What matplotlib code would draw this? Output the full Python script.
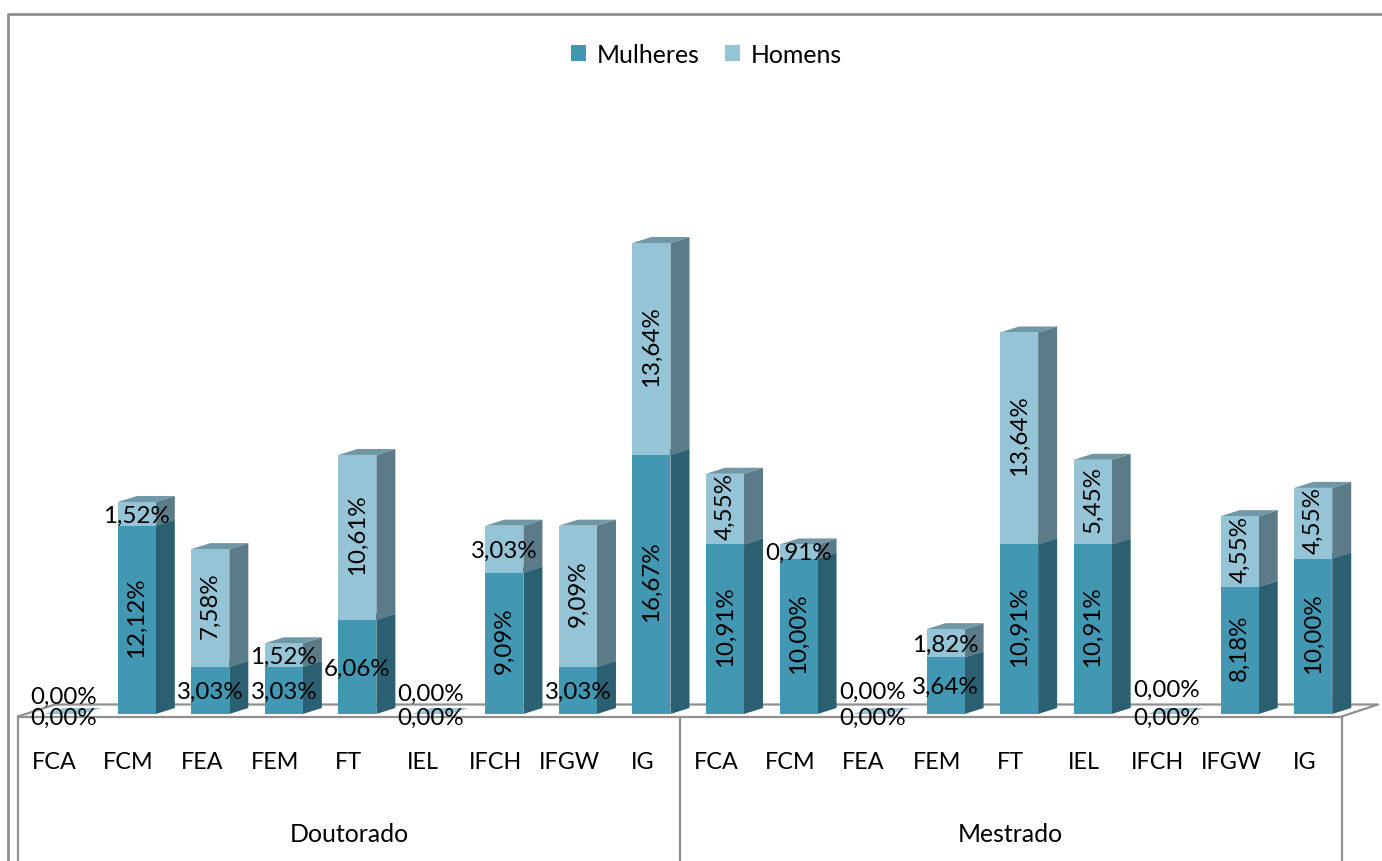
import numpy as np
import matplotlib
matplotlib.use("Agg")
import matplotlib.pyplot as plt
from matplotlib.lines import Line2D
from matplotlib.patches import Polygon, Patch

plt.rcParams['font.family'] = ['Lato', 'DejaVu Sans']

courses = ["FCA", "FCM", "FEA", "FEM", "FT", "IEL", "IFCH", "IFGW", "IG",
           "FCA", "FCM", "FEA", "FEM", "FT", "IEL", "IFCH", "IFGW", "IG"]
groups = ["Doutorado", "Mestrado"]
mulheres = [0.00, 12.12, 3.03, 3.03, 6.06, 0.00, 9.09, 3.03, 16.67,
            10.91, 10.00, 0.00, 3.64, 10.91, 10.91, 0.00, 8.18, 10.00]
homens = [0.00, 1.52, 7.58, 1.52, 10.61, 0.00, 3.03, 9.09, 13.64,
          4.55, 0.91, 0.00, 1.82, 13.64, 5.45, 0.00, 4.55, 4.55]

W, H = 1382, 862
FLOOR_Y, LEFT, RIGHT = 715, 18, 1341.5
PX_PER_PCT = 15.54
FS_TICK, FS_LABEL, FS_BIG = 16.8, 17.4, 17.9
GRAY = "#8f8f8f"

WOMEN = ("#4298B2", "#2A6071", "#3F7F93")
MEN = ("#95C4D7", "#5C7B88", "#6F97A6")

fig = plt.figure(figsize=(W / 100, H / 100), dpi=100, facecolor="white")
top_px = 20
ax = fig.add_axes([LEFT / W, 1 - FLOOR_Y / H, (RIGHT - LEFT) / W, (FLOOR_Y - top_px) / H])
ax.set_xlim(-0.5, 17.5)
ax.set_ylim(0, (FLOOR_Y - top_px) / PX_PER_PCT)
ax.patch.set_alpha(0)
ax.set_zorder(2)
for s in ax.spines.values():
    s.set_visible(False)
ax.set_yticks([])

slot = (RIGHT - LEFT) / 18
bar_shift = 8.5 / slot
bar_w = 38 / slot
dx = 19 / slot
dy = 6 / PX_PER_PCT

x = np.arange(18)
ax.set_xticks(x, courses, fontsize=FS_TICK)
ax.tick_params(axis="x", length=0, pad=26.7, colors="black")


def frame(xs, ys, lw=1.6):
    fig.add_artist(Line2D(np.array(xs) / W, 1 - np.array(ys) / H, color=GRAY, lw=lw,
                          transform=fig.transFigure, zorder=1, solid_capstyle="projecting"))


frame([7.5, 7.5, W], [H, 14.5, 14.5], lw=2)
frame([LEFT, RIGHT], [717.5, 717.5])
frame([LEFT, 55, 1378, RIGHT], [717.5, 705.5, 705.5, 717.5])
for vx in (LEFT, 680, RIGHT):
    frame([vx, vx], [717.5, H])


def box(xc, y0, y1, cols, z):
    xl, xr = xc - bar_w / 2, xc + bar_w / 2
    ax.add_patch(Polygon([(xr, y0), (xr + dx, y0 + dy), (xr + dx, y1 + dy), (xr, y1)],
                         fc=cols[1], ec="none", clip_on=False, zorder=z))
    ax.add_patch(Polygon([(xl, y1), (xr, y1), (xr + dx, y1 + dy), (xl + dx, y1 + dy)],
                         fc=cols[2], ec="none", clip_on=False, zorder=z))


centers = x + bar_shift
ax.bar(centers, mulheres, bar_w, color=WOMEN[0], zorder=3, clip_on=False)
ax.bar(centers, homens, bar_w, bottom=mulheres, color=MEN[0], zorder=3, clip_on=False)
FLAT_TOP = ("#95C4D7", "#95C4D7", "#95C4D7")
for c, m, h in zip(centers, mulheres, homens):
    if m + h == 0:
        box(c, 0, 0, FLAT_TOP, 2)
        continue
    box(c, 0, m, WOMEN, 2)
    box(c, m, m + h, MEN, 2)


def fmt(v):
    return f"{v:.2f}%".replace(".", ",")


ROTATE_FROM = 4.0
men_zero_lift = {0: 18, 5: 21, 11: 23, 15: 25}
for i, c in enumerate(centers):
    m, h = mulheres[i], homens[i]
    for v, base, is_men in ((m, 0, False), (h, m, True)):
        ymid = base + v / 2
        rot = 90 if (v >= ROTATE_FROM and not (i == 4 and not is_men)) else 0
        off = 3.5 if rot else -1
        if v == 0:
            off = men_zero_lift[i] if is_men else -3
        ax.annotate(fmt(v), (c, ymid), xytext=(0, off * 0.72), textcoords="offset points",
                    ha="center", va="center", rotation=rot, fontsize=FS_LABEL, color="black",
                    zorder=5, annotation_clip=False)

for name, (a, b) in zip(groups, ((0, 8), (9, 17))):
    ax.text((a + b) / 2, -(835 - FLOOR_Y) / PX_PER_PCT, name, ha="center", va="center",
            fontsize=FS_BIG, color="black", clip_on=False)

fig.legend(handles=[Patch(fc=WOMEN[0], label="Mulheres"), Patch(fc=MEN[0], label="Homens")],
           loc="center", bbox_to_anchor=(706.5 / W, 1 - 55.5 / H), ncol=2, frameon=False,
           fontsize=FS_BIG, handlelength=0.6, handleheight=0.6, handletextpad=0.42,
           columnspacing=1.02)

fig.savefig("out.png", dpi=100, facecolor="white")
